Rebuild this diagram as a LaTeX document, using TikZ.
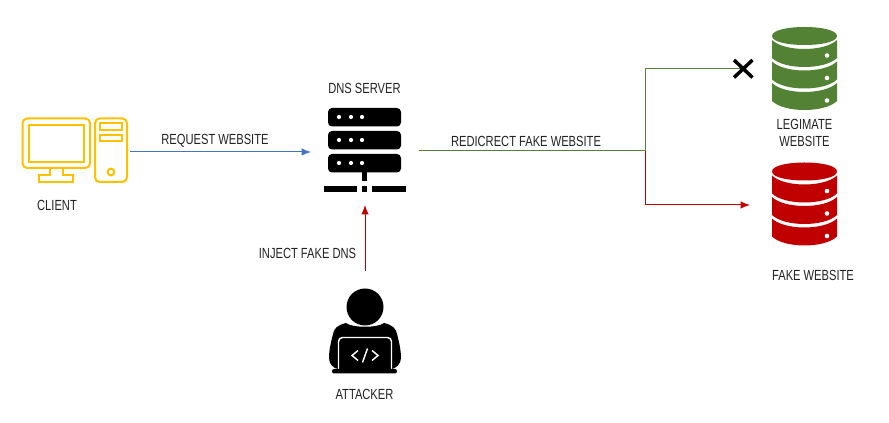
\documentclass[tikz,border=0pt]{standalone}
\usepackage{fontspec}
\setmainfont[FakeStretch=0.76]{Liberation Sans}
\definecolor{cgreen}{HTML}{548235}
\definecolor{cred}{HTML}{C00000}
\definecolor{cyellow}{HTML}{FFC000}
\definecolor{cblue}{HTML}{4472C4}
\definecolor{ctext}{HTML}{222222}
\usetikzlibrary{arrows.meta}
\tikzset{
  label text/.style={font=\fontsize{11pt}{12.8pt}\selectfont,text=ctext,inner sep=0pt,align=center},
  icon box/.style 2 args={inner sep=0pt,outer sep=0pt,minimum width=#1*0.75pt,minimum height=#2*0.75pt},
  link/.style={line width=0.75pt,-{Latex[length=7pt,width=5.5pt]}},
  plain link/.style={line width=0.75pt},
  db/.pic={
    \fill[pic actions] (-32.5,-33) .. controls (-32.5,-45) and (32.5,-45) .. (32.5,-33)
      .. controls (32.5,-21) and (-32.5,-21) .. (-32.5,-33) -- cycle;
    \foreach \t in {0,21.5,43}{
      \fill[pic actions] (-32.5,{-29+\t}) .. controls (-20,{-17+\t}) and (20,{-17+\t}) .. (32.5,{-29+\t})
        -- (32.5,{-11+\t}) .. controls (20,{1+\t}) and (-20,{1+\t}) .. (-32.5,{-11+\t}) -- cycle;
    }
    \foreach \t in {0,22.5,45}{
      \fill[white] (22.5,{-13.5+\t}) circle (2.3);
    }
  },
}
\begin{document}
\begin{tikzpicture}[x=0.75pt,y=-0.75pt]
\useasboundingbox (0,0) rectangle (889,423);
\fill[white] (0,0) rectangle (889,423);

% anchors of the icons
\node[icon box={111}{64}] (client) at (74.5,152) {};
\node[icon box={108}{108}] (server) at (365,151) {};
\node[icon box={72}{108}] (attacker) at (365,325) {};
\node[icon box={109}{84}] (legit) at (804.5,69) {};
\node[icon box={109}{86}] (fake) at (804.5,205) {};
\node[inner sep=0pt,minimum size=1pt] (cross) at (743,68.5) {};
\coordinate (junction) at (645,151);

% client icon
\begin{scope}[cyellow,line width=1.5pt]
  \draw[rounded corners=3.5pt] (22.5,118.5) rectangle (90,168);
  \draw (29,125.5) rectangle (83.5,162);
  \draw (50,168) -- (50,175.5) -- (39,175.5) -- (39,182) -- (73,182) -- (73,175.5) -- (63,175.5) -- (63,168);
  \draw[rounded corners=3.5pt] (95,118.5) rectangle (127,182);
  \draw (99.5,123.5) rectangle (122,130);
  \draw (99.5,135) rectangle (122,141.5);
  \draw (111,172) circle (3.4);
\end{scope}

% server icon
\foreach \y in {108,131,154}{
  \fill[black,rounded corners=3pt] (328,\y) rectangle (401,\y+18.5);
  \foreach \x in {339,351,362}{\fill[white] (\x,\y+9) circle (2.1);}
}
\fill[black] (362,172) rectangle (367,181);
\fill[black] (324,186) rectangle (357,192);
\fill[black] (362,186) rectangle (367,192);
\fill[black] (372,186) rectangle (406,192);

% attacker icon
\fill[black] (365,307) circle (18.5);
\fill[black] (346,323) .. controls (352,328) and (378,328) .. (384,323)
  .. controls (392,325) and (396,328) .. (397,334)
  .. controls (399,342) and (401,350) .. (401,358)
  .. controls (401,364) and (396,368) .. (392,369)
  -- (338,369) .. controls (333,368) and (329,364) .. (329,358)
  .. controls (329,350) and (331,342) .. (333,334)
  .. controls (334,328) and (338,325) .. (346,323) -- cycle;
\draw[white,fill=black,line width=1.1pt,rounded corners=3pt] (338.5,369) -- (338.5,337.5) -- (391.5,337.5) -- (391.5,369);
\fill[black,rounded corners=1.5pt] (332,369) rectangle (397,373.5);
\begin{scope}[white,line width=1.1pt]
  \draw (358,350.5) -- (352,355.5) -- (358,360.5);
  \draw (372,350.5) -- (378,355.5) -- (372,360.5);
  \draw (367.5,348.5) -- (362.5,362.5);
\end{scope}

% databases
\pic[cgreen] at (804.5,69) {db};
\pic[cred] at (804.5,204.5) {db};

% connectors
\draw[link,cblue] (client.east) -- (client.east -| server.west);
\draw[link,cred] (attacker.north) -- (server.south);
\draw[plain link,cred] (server.east) -- (junction);
\draw[link,cred] (junction) |- (fake.west);
\draw[plain link,cgreen] (server.east) -- (junction) |- (cross.center);

% blocked marker
\draw[black,line width=2.6pt] (734,60) -- (752.5,77.5) (752.5,60) -- (734,77.5);

% labels
\node[label text] (tclient) at (57,205.5) {CLIENT};
\node[label text] (trequest) at (215,141) {REQUEST WEBSITE};
\node[label text] (tdns) at (364.5,88.5) {DNS SERVER};
\node[label text] (tredir) at (526,141) {REDICRECT FAKE WEBSITE};
\node[label text] (tinject) at (307.5,253) {INJECT FAKE DNS};
\node[label text] (tattacker) at (364.5,394.5) {ATTACKER};
\node[label text,text width=90pt] (tlegit) at (804.5,132.5) {LEGIMATE\\WEBSITE};
\node[label text] (tfake) at (813,275) {FAKE WEBSITE};
\end{tikzpicture}
\end{document}
